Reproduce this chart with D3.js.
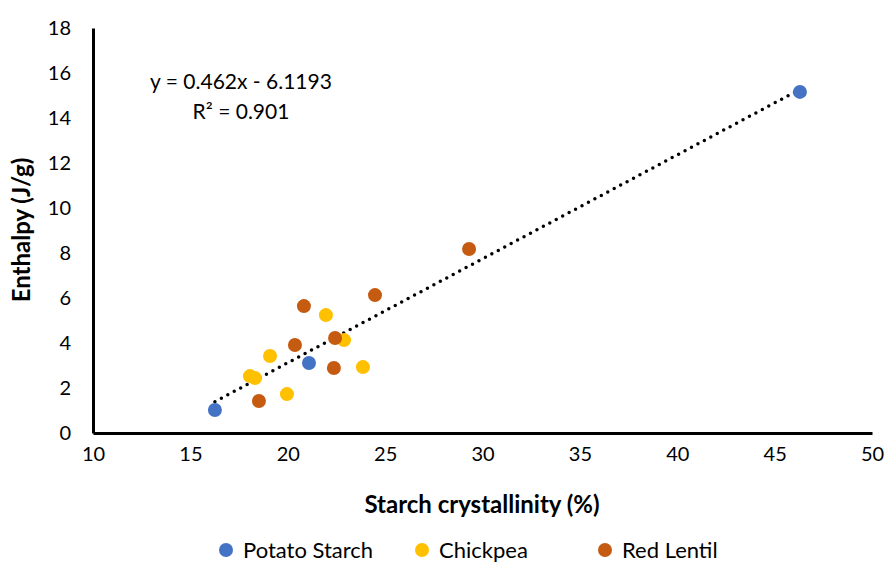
<!DOCTYPE html>
<html>
<head>
<meta charset="utf-8">
<script src="https://cdn.jsdelivr.net/npm/d3@7"></script>
<style>
  body { margin: 0; background: #fff; }
  svg { font-family: Lato, "Open Sans", sans-serif; }
</style>
</head>
<body>
<div id="chart"></div>
<script>
// data
const potatoX = [16.26, 21.09, 46.3];
const potatoY = [1.02, 3.11, 15.16];
const chickpeaX = [21.96, 19.09, 18.06, 18.32, 19.96, 22.89, 23.86];
const chickpeaY = [5.24, 3.42, 2.53, 2.44, 1.73, 4.13, 2.93];
const lentilX = [20.83, 24.48, 20.37, 22.43, 22.37, 18.52, 29.31];
const lentilY = [5.64, 6.13, 3.91, 4.22, 2.89, 1.42, 8.18];
const seriesNames = ["Potato Starch", "Chickpea", "Red Lentil"];
const seriesColors = ["#4472C4", "#FFC000", "#C55A11"];
const xTicks = [10, 15, 20, 25, 30, 35, 40, 45, 50];
const yTicks = [0, 2, 4, 6, 8, 10, 12, 14, 16, 18];
const trendSlope = 0.462;
const trendIntercept = -6.1193;
const trendR2 = 0.901;

const ctx = {
    w: 886,
    h: 562,
    marginTop: 28,
    marginRight: 14,
    marginBottom: 129,
    marginLeft: 93
};

function createViz() {
    const width = ctx.w - ctx.marginLeft - ctx.marginRight;
    const height = ctx.h - ctx.marginTop - ctx.marginBottom;

    const root = d3.select("#chart").append("svg")
        .attr("width", ctx.w)
        .attr("height", ctx.h);
    const svg = root.append("g")
        .attr("transform", `translate(${ctx.marginLeft},${ctx.marginTop})`);

    const x = d3.scaleLinear().domain([10, 50]).range([0, width]);
    const y = d3.scaleLinear().domain([0, 18]).range([height, 0]);

    // axes without tick marks
    const xAxis = svg.append("g")
        .attr("transform", `translate(0,${height})`)
        .call(d3.axisBottom(x).tickValues(xTicks).tickSize(0).tickPadding(14));
    const yAxis = svg.append("g")
        .call(d3.axisLeft(y).tickValues(yTicks).tickSize(0).tickPadding(22));

    [xAxis, yAxis].forEach(a => {
        a.select(".domain").attr("stroke", "#000").attr("stroke-width", 3);
        a.selectAll("text").attr("font-size", 20).attr("fill", "#000")
            .attr("font-family", "Lato, sans-serif");
    });

    // trendline over data range
    const allX = potatoX.concat(chickpeaX, lentilX);
    const ext = d3.extent(allX);
    const trend = ext.map(v => ({x: v, y: trendSlope * v + trendIntercept}));
    svg.append("path")
        .datum(trend)
        .attr("fill", "none")
        .attr("stroke", "#000")
        .attr("stroke-width", 3.5)
        .attr("stroke-linecap", "round")
        .attr("stroke-dasharray", "0,7.3")
        .attr("d", d3.line().x(d => x(d.x)).y(d => y(d.y)));

    const series = [
        {name: seriesNames[0], color: seriesColors[0], xs: potatoX, ys: potatoY},
        {name: seriesNames[1], color: seriesColors[1], xs: chickpeaX, ys: chickpeaY},
        {name: seriesNames[2], color: seriesColors[2], xs: lentilX, ys: lentilY}
    ];

    series.forEach(s => {
        svg.append("g").selectAll("circle")
            .data(s.xs.map((v, i) => ({x: v, y: s.ys[i]})))
            .join("circle")
            .attr("cx", d => x(d.x))
            .attr("cy", d => y(d.y))
            .attr("r", 7)
            .attr("fill", s.color);
    });

    // trendline label
    const eq = svg.append("text")
        .attr("font-size", 21)
        .attr("text-anchor", "middle")
        .attr("fill", "#000");
    eq.append("tspan").attr("x", 148).attr("y", 61)
        .text(`y = ${trendSlope}x - ${Math.abs(trendIntercept)}`);
    eq.append("tspan").attr("x", 148).attr("y", 91)
        .text(`R² = ${trendR2}`);

    // axis titles
    root.append("text")
        .attr("x", 482)
        .attr("y", 513)
        .attr("text-anchor", "middle")
        .attr("font-size", 24)
        .attr("font-weight", "bold")
        .text("Starch crystallinity (%)");

    root.append("text")
        .attr("transform", "translate(30,230) rotate(-90)")
        .attr("text-anchor", "middle")
        .attr("font-size", 24)
        .attr("font-weight", "bold")
        .text("Enthalpy (J/g)");

    // legend
    const legendX = [226, 422, 605];
    const legend = root.append("g");
    series.forEach((s, i) => {
        legend.append("circle")
            .attr("cx", legendX[i])
            .attr("cy", 550)
            .attr("r", 7)
            .attr("fill", s.color);
        legend.append("text")
            .attr("x", legendX[i] + 17)
            .attr("y", 558)
            .attr("font-size", 22)
            .text(s.name);
    });
}

document.addEventListener("DOMContentLoaded", function () {
    createViz();
});
</script>
</body>
</html>
